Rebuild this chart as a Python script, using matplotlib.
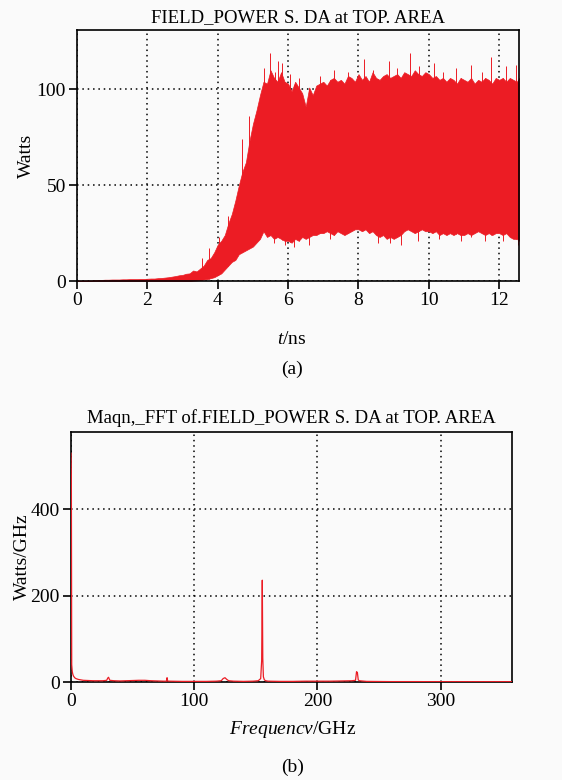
import numpy as np
import matplotlib
matplotlib.use('Agg')
from matplotlib import pyplot as plt

plt.rcParams['font.family'] = ['Liberation Serif', 'DejaVu Serif']
plt.rcParams['mathtext.fontset'] = 'custom'
plt.rcParams['mathtext.rm'] = 'Liberation Serif'
plt.rcParams['mathtext.it'] = 'Liberation Serif:italic'

RED = '#ec1c24'
BG = '#fafafa'

# (a) field power envelope, every 0.1 ns (W)
env_t = [0.0, 0.1, 0.2, 0.3, 0.4, 0.5, 0.6, 0.7, 0.8, 0.9,
         1.0, 1.1, 1.2, 1.3, 1.4, 1.5, 1.6, 1.7, 1.8, 1.9,
         2.0, 2.1, 2.2, 2.3, 2.4, 2.5, 2.6, 2.7, 2.8, 2.9,
         3.0, 3.1, 3.2, 3.3, 3.4, 3.5, 3.6, 3.7, 3.8, 3.9,
         4.0, 4.1, 4.2, 4.3, 4.4, 4.5, 4.6, 4.7, 4.8, 4.9,
         5.0, 5.1, 5.2, 5.3, 5.4, 5.5, 5.6, 5.7, 5.8, 5.9,
         6.0, 6.1, 6.2, 6.3, 6.4, 6.5, 6.6, 6.7, 6.8, 6.9,
         7.0, 7.1, 7.2, 7.3, 7.4, 7.5, 7.6, 7.7, 7.8, 7.9,
         8.0, 8.1, 8.2, 8.3, 8.4, 8.5, 8.6, 8.7, 8.8, 8.9,
         9.0, 9.1, 9.2, 9.3, 9.4, 9.5, 9.6, 9.7, 9.8, 9.9,
         10.0, 10.1, 10.2, 10.3, 10.4, 10.5, 10.6, 10.7, 10.8, 10.9,
         11.0, 11.1, 11.2, 11.3, 11.4, 11.5, 11.6, 11.7, 11.8, 11.9,
         12.0, 12.1, 12.2, 12.3, 12.4, 12.5, 12.57]
env_upper = [0.2, 0.2, 0.3, 0.3, 0.3, 0.5, 0.6, 0.6, 0.7, 0.7,
             0.8, 0.8, 0.8, 0.9, 0.9, 1.0, 1.0, 1.0, 1.1, 1.1,
             1.2, 1.3, 1.3, 1.5, 1.6, 1.8, 2.0, 2.3, 2.6, 3.0,
             3.2, 3.8, 4.0, 5.5, 5.0, 6.5, 8, 11, 12, 15,
             19, 21, 24, 30, 35, 42, 50, 57, 62, 73,
             82, 89, 97, 104, 103, 110, 106, 104, 109, 104,
             103, 99, 104, 101, 98, 91, 101, 97, 102, 103,
             104, 102, 105, 106, 104, 105, 103, 107, 106, 104,
             108, 105, 107, 104, 109, 106, 105, 107, 108, 106,
             107, 108, 106, 109, 108, 107, 110, 108, 107, 109,
             108, 106, 107, 105, 106, 104, 106, 105, 103, 106,
             105, 104, 106, 103, 105, 104, 106, 105, 103, 106,
             105, 106, 104, 106, 105, 104, 106]
env_lower = [0, 0, 0, 0, 0, 0, 0, 0, 0, 0,
             0, 0, 0, 0, 0, 0, 0, 0, 0, 0,
             0, 0, 0, 0, 0, 0, 0, 0, 0, 0,
             0, 0, 0, 0.2, 0.3, 0.5, 0.8, 1.0, 1.5, 2.0,
             3, 4, 6, 8, 10, 11, 14, 15, 16, 17,
             18, 20, 22, 26, 23, 24, 22, 23, 22, 21,
             21, 20, 22, 21, 23, 22, 23, 24, 24, 25,
             25, 26, 25, 24, 26, 25, 24, 25, 26, 27,
             27, 26, 27, 25, 26, 24, 23, 24, 22, 23,
             22, 23, 24, 26, 27, 26, 25, 26, 27, 26,
             26, 25, 26, 24, 25, 24, 25, 24, 25, 24,
             24, 25, 24, 25, 26, 25, 24, 25, 24, 25,
             25, 24, 25, 23, 22, 22, 21]

# peaks sticking out above / below the envelope
spike_t = [3.55, 3.75, 4.05, 4.3, 4.7, 4.9, 5.32, 5.49, 5.62, 5.7, 5.84, 6.05, 6.3,
           6.9, 7.31, 7.7, 8.17, 8.4, 8.88, 9.1, 9.45, 9.73, 10.16, 10.4, 10.78,
           11.2, 11.5, 11.78, 12.2, 12.49]
spike_top = [12, 17, 23, 34, 74, 86, 111, 119, 109, 115, 114, 108, 106,
             107, 110, 109, 116, 110, 115, 111, 119, 112, 114, 109, 111,
             113, 109, 117, 112, 113]
dip_t = [5.6, 5.9, 6.17, 6.6, 7.2, 8.55, 8.9, 9.2, 9.69, 10.3, 10.9, 11.2, 11.6, 12.1, 12.53]
dip_bottom = [20, 19, 18, 19, 22, 20, 20, 19, 21, 22, 21, 23, 21, 21, 19]

# (b) FFT magnitude (GHz, W/GHz)
freq = [0, 0.3, 0.6, 1, 1.5, 2, 3, 4, 6, 8, 10, 14, 18, 22, 26, 29, 29.8, 30.5,
        31.5, 35, 40, 45, 50, 55, 60, 65, 70, 75, 77.5, 78, 78.5, 80, 90, 100,
        110, 118, 122, 123.5, 125, 126.5, 128, 132, 140, 148, 152, 154, 154.8,
        155.3, 155.7, 156.2, 157, 158, 160, 170, 180, 190, 200, 210, 220, 228,
        231, 231.8, 232.5, 233.2, 234, 240, 260, 280, 300, 320, 340, 358]
mag = [530, 480, 40, 25, 18, 14, 10, 8, 6, 5, 4, 3.5, 3, 3, 3, 4, 9, 11,
       4, 3, 2.5, 3, 3.5, 4, 4, 3, 2.5, 2, 2, 10, 2, 2, 1.5, 1.5,
       1.5, 2, 3, 8, 10, 6, 3, 2, 1.5, 2, 3, 8, 50,
       236, 55, 12, 5, 3, 2, 1.5, 1.5, 2, 2, 2, 2.5, 3,
       4, 24, 22, 5, 3, 1.5, 1, 1, 0.8, 0.8, 0.8, 0.8]

fig = plt.figure(figsize=(5.62, 7.80), dpi=100, facecolor=BG)

def style(ax):
    ax.set_facecolor(BG)
    for s in ax.spines.values():
        s.set_linewidth(1.2)
        s.set_zorder(4)
    ax.tick_params(direction='out', length=6, width=1.2, labelsize=14, pad=2)
    ax.grid(True, color='black', linestyle=(0, (1, 2.5)), linewidth=1.1)
    ax.set_axisbelow(True)

# top panel
ax1 = fig.add_axes([0.137, 0.6397, 0.787, 0.3218])
style(ax1)
ax1.fill_between(env_t, env_lower, env_upper, color=RED, lw=0.5, edgecolor=RED)
# spikes hang on the envelope
ax1.vlines(spike_t, np.interp(spike_t, env_t, env_lower), spike_top, color=RED, lw=0.7)
ax1.vlines(dip_t, dip_bottom, np.interp(dip_t, env_t, env_upper), color=RED, lw=0.7)
ax1.set_xlim(0, 12.57)
ax1.set_ylim(0, 131)
ax1.set_xticks([0, 2, 4, 6, 8, 10, 12])
ax1.set_yticks([0, 50, 100])
ax1.set_title('FIELD_POWER S. DA at TOP. AREA', fontsize=13.5, pad=6)
ax1.set_ylabel('Watts', fontsize=14, labelpad=1)
fig.text(0.52, 1 - 340 / 780, r'$\mathit{t}$/ns', fontsize=14, ha='center', va='center')
fig.text(0.52, 1 - 369 / 780, '(a)', fontsize=14, ha='center', va='center')

# bottom panel
ax2 = fig.add_axes([0.1263, 0.1256, 0.7847, 0.3209])
style(ax2)
ax2.plot(freq, mag, color=RED, lw=0.9, zorder=5)
ax2.set_xlim(0, 358)
ax2.set_ylim(0, 580)
ax2.set_xticks([0, 100, 200, 300])
ax2.set_yticks([0, 200, 400])
ax2.set_title('Maqn,_FFT of.FIELD_POWER S. DA at TOP. AREA', fontsize=13.5, pad=6)
ax2.set_ylabel('Watts/GHz', fontsize=14, labelpad=0)
fig.text(0.52, 1 - 729 / 780, r'$\mathit{Frequencv}$/GHz', fontsize=14, ha='center', va='center')
fig.text(0.52, 1 - 767 / 780, '(b)', fontsize=14, ha='center', va='center')

fig.savefig('out.png', dpi=100, facecolor=BG)
